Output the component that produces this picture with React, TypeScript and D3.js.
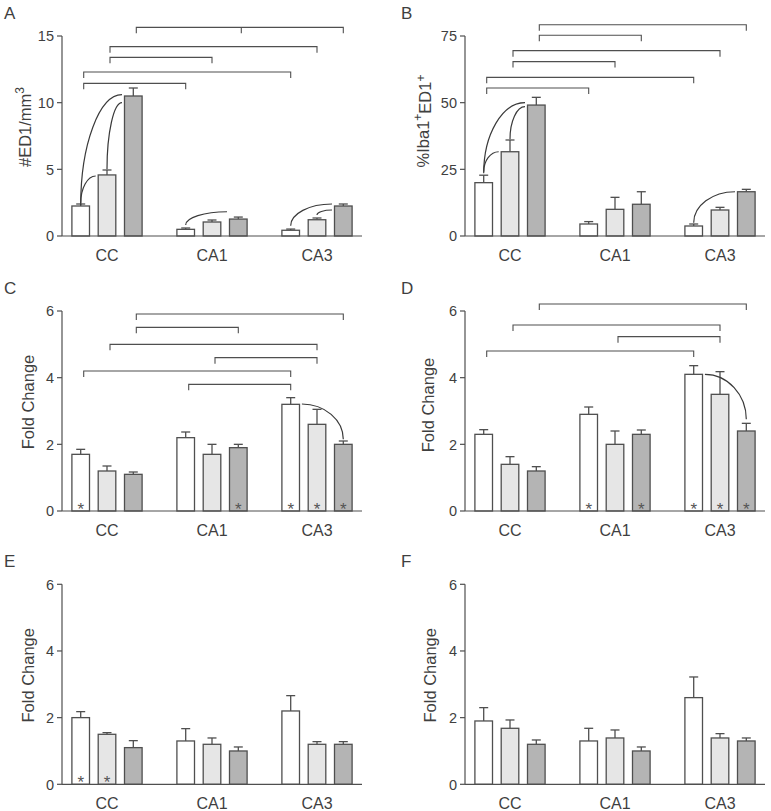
import React from "react";
import * as d3 from "d3";

// ---------- DATA ----------
const categories = ["CC", "CA1", "CA3"];
const seriesNames = ["white", "light", "dark"];

// means[group][series], errTop[group][series] (mean + SEM)
const aMeans = [[2.25, 4.58, 10.5], [0.5, 1.05, 1.27], [0.43, 1.22, 2.25]];
const aErrTop = [[2.4, 4.95, 11.1], [0.6, 1.2, 1.42], [0.52, 1.35, 2.4]];
const bMeans = [[20, 31.6, 49.1], [4.5, 10, 11.9], [3.75, 9.75, 16.6]];
const bErrTop = [[22.8, 36, 52], [5.4, 14.5, 16.6], [4.5, 10.75, 17.5]];
const cMeans = [[1.7, 1.2, 1.1], [2.2, 1.7, 1.9], [3.2, 2.6, 2.0]];
const cErrTop = [[1.85, 1.35, 1.17], [2.37, 2.0, 2.0], [3.4, 3.05, 2.1]];
const dMeans = [[2.3, 1.4, 1.2], [2.9, 2.0, 2.3], [4.1, 3.5, 2.4]];
const dErrTop = [[2.44, 1.63, 1.33], [3.12, 2.4, 2.43], [4.36, 4.18, 2.63]];
const eMeans = [[2.0, 1.5, 1.1], [1.3, 1.2, 1.0], [2.2, 1.2, 1.2]];
const eErrTop = [[2.18, 1.55, 1.31], [1.67, 1.39, 1.12], [2.66, 1.28, 1.28]];
const fMeans = [[1.9, 1.68, 1.2], [1.3, 1.39, 1.0], [2.6, 1.39, 1.3]];
const fErrTop = [[2.3, 1.93, 1.33], [1.68, 1.63, 1.12], [3.22, 1.52, 1.39]];

const aTicks = [0, 5, 10, 15];
const bTicks = [0, 25, 50, 75];
const foldTicks = [0, 2, 4, 6];

// significance stars: [group, series]
const cStars = [[0, 0], [1, 2], [2, 0], [2, 1], [2, 2]];
const dStars = [[1, 0], [1, 2], [2, 0], [2, 1], [2, 2]];
const eStars = [[0, 0], [0, 1]];

// brackets: [leftGroup, leftSeries, rightGroup, rightSeries, level, midGroup?, midSeries?]
const aBrackets = [
  [0, 2, 2, 2, 15.65, 1, 2],
  [0, 1, 2, 1, 14.2],
  [0, 1, 1, 1, 13.4],
  [0, 0, 2, 0, 12.3],
  [0, 0, 1, 0, 11.45],
];
const bBrackets = [
  [0, 2, 2, 2, 79.2],
  [0, 2, 1, 2, 75.3],
  [0, 1, 2, 1, 69.5],
  [0, 1, 1, 1, 65.4],
  [0, 0, 2, 0, 59.5],
  [0, 0, 1, 0, 55.5],
];
const cBrackets = [
  [0, 2, 2, 2, 5.91],
  [0, 2, 1, 2, 5.51],
  [0, 1, 2, 1, 5.0],
  [1, 1, 2, 1, 4.6],
  [0, 0, 2, 0, 4.2],
  [1, 0, 2, 0, 3.8],
];
const dBrackets = [
  [0, 2, 2, 2, 6.21],
  [0, 1, 2, 1, 5.58],
  [1, 1, 2, 1, 5.23],
  [0, 0, 2, 0, 4.8],
];

// curves: [fromGroup, fromSeries, fromValue, toGroup, toSeries, toValue, kind]
const aCurves = [
  [0, 0, 2.3, 0, 2, 10.6, "up"],
  [0, 0, 2.45, 0, 1, 4.5, "up"],
  [0, 1, 5.0, 0, 2, 10.0, "up"],
  [1, 0, 0.83, 1, 2, 1.82, "up"],
  [2, 0, 0.77, 2, 2, 2.4, "up"],
  [2, 1, 1.58, 2, 2, 1.95, "up"],
];
const bCurves = [
  [0, 0, 23.5, 0, 2, 50, "up"],
  [0, 0, 24.1, 0, 1, 31.6, "up"],
  [0, 1, 36.3, 0, 2, 48.5, "up"],
  [2, 0, 5, 2, 2, 16.6, "up"],
];
const cCurves = [[2, 0, 3.21, 2, 2, 2.15, "down"]];
const dCurves = [[2, 0, 4.1, 2, 2, 2.75, "down"]];

// ---------- LAYOUT / STYLE ----------
const W = 771;
const H = 811;
const FONT = "'Liberation Sans', Arial, Helvetica, sans-serif";
const TEXT = "#3f3f3f";
const LINE = "#4f4f4f";
const FILLS = ["#ffffff", "#e6e6e6", "#b4b4b4"];
const colX = [62, 465];
const rowY = [
  { base: 236, top: 36 },
  { base: 511, top: 311 },
  { base: 784.3, top: 584.3 },
];

type Panel = {
  letter: string;
  col: number;
  row: number;
  max: number;
  ticks: number[];
  means: number[][];
  errs: number[][];
  stars?: number[][];
  brackets?: any[][];
  curves?: any[][];
  label: "ed1" | "iba" | "fold";
  labelDx: number;
  labelDy: number;
};

const panels: Panel[] = [
  { letter: "A", col: 0, row: 0, max: 15, ticks: aTicks, means: aMeans, errs: aErrTop, brackets: aBrackets, curves: aCurves, label: "ed1", labelDx: -37, labelDy: -9 },
  { letter: "B", col: 1, row: 0, max: 75, ticks: bTicks, means: bMeans, errs: bErrTop, brackets: bBrackets, curves: bCurves, label: "iba", labelDx: -42, labelDy: -15 },
  { letter: "C", col: 0, row: 1, max: 6, ticks: foldTicks, means: cMeans, errs: cErrTop, stars: cStars, brackets: cBrackets, curves: cCurves, label: "fold", labelDx: -34, labelDy: -9 },
  { letter: "D", col: 1, row: 1, max: 6, ticks: foldTicks, means: dMeans, errs: dErrTop, stars: dStars, brackets: dBrackets, curves: dCurves, label: "fold", labelDx: -37, labelDy: -6 },
  { letter: "E", col: 0, row: 2, max: 6, ticks: foldTicks, means: eMeans, errs: eErrTop, stars: eStars, label: "fold", labelDx: -34, labelDy: -9 },
  { letter: "F", col: 1, row: 2, max: 6, ticks: foldTicks, means: fMeans, errs: fErrTop, label: "fold", labelDx: -35, labelDy: -9 },
];

const BAR_W = 17.6;
const CAP_W = 9;

function YLabel({ kind }: { kind: string }) {
  if (kind === "ed1") {
    return (
      <>
        #ED1/mm
        <tspan dy="-0.55em" fontSize="12">3</tspan>
      </>
    );
  }
  if (kind === "iba") {
    return (
      <>
        %Iba1
        <tspan dy="-0.55em" fontSize="12">+</tspan>
        <tspan dy="0.55em">ED1</tspan>
        <tspan dy="-0.55em" fontSize="12">+</tspan>
      </>
    );
  }
  return <>Fold Change</>;
}

function PanelChart({ p }: { p: Panel }) {
  const ax = colX[p.col];
  const { base, top } = rowY[p.row];
  const y = d3.scaleLinear().domain([0, p.max]).range([base, top]);
  const gx = d3.scalePoint<string>().domain(categories).range([ax + 45, ax + 255]);
  const bx = d3.scalePoint<number>().domain([0, 1, 2]).range([-26.3, 26.3]);
  const cx = (g: number, s: number) => (gx(categories[g]) as number) + (bx(s) as number);

  const bars: any[] = [];
  p.means.forEach((row, g) =>
    row.forEach((v, s) => {
      bars.push({ g, s, v, e: p.errs[g][s] });
    })
  );

  const curvePath = (c: any[]) => {
    const [fg, fs, fv, tg, ts, tv, kind] = c;
    const k = 0.55;
    const path = d3.path();
    if (kind === "up") {
      const sx = cx(fg, fs);
      const sy = y(fv);
      const ex = cx(tg, ts) - BAR_W / 2 - 2.5;
      const ey = y(tv);
      path.moveTo(sx, sy);
      path.bezierCurveTo(sx, sy + k * (ey - sy), ex - k * (ex - sx), ey, ex, ey);
      return path.toString();
    }
    const sx = cx(fg, fs) + BAR_W / 2 + 2.4;
    const sy = y(fv);
    const ex = cx(tg, ts);
    const ey = y(tv);
    path.moveTo(sx, sy);
    path.bezierCurveTo(sx + k * (ex - sx), sy, ex, ey - k * (ey - sy), ex, ey);
    return path.toString();
  };

  const labelY = (base + top) / 2 + p.labelDy;
  const labelX = ax + p.labelDx;

  return (
    <g>
      <text x={p.col === 0 ? 4 : 401} y={top - 17} fontSize={17} fill={TEXT} fontFamily={FONT}>
        {p.letter}
      </text>
      <line x1={ax} x2={ax} y1={base} y2={top} stroke={LINE} strokeWidth={1.2} />
      {p.ticks.map((t) => (
        <g key={t}>
          <line x1={ax - 5} x2={ax} y1={y(t)} y2={y(t)} stroke={LINE} strokeWidth={1.2} />
          <text x={ax - 8} y={y(t)} dy="0.36em" textAnchor="end" fontSize={14.5} fill={TEXT} fontFamily={FONT}>
            {t}
          </text>
        </g>
      ))}
      <text
        transform={`translate(${labelX},${labelY}) rotate(-90)`}
        textAnchor="middle"
        dy="0.36em"
        fontSize={16.5}
        fill={TEXT}
        fontFamily={FONT}
      >
        <YLabel kind={p.label} />
      </text>
      {bars.map((b) => {
        const c = cx(b.g, b.s);
        return (
          <g key={`${b.g}-${b.s}`}>
            <line x1={c} x2={c} y1={y(b.v)} y2={y(b.e)} stroke={LINE} strokeWidth={1.3} />
            <line x1={c - CAP_W / 2} x2={c + CAP_W / 2} y1={y(b.e)} y2={y(b.e)} stroke={LINE} strokeWidth={1.3} />
            <rect
              x={c - BAR_W / 2}
              y={y(b.v)}
              width={BAR_W}
              height={base - y(b.v)}
              fill={FILLS[b.s]}
              stroke={LINE}
              strokeWidth={1.3}
            />
          </g>
        );
      })}
      <line x1={ax} x2={ax + 300} y1={base} y2={base} stroke={LINE} strokeWidth={1.2} />
      {categories.map((c) => (
        <text key={c} x={gx(c)} y={base + 25} textAnchor="middle" fontSize={16} fill={TEXT} fontFamily={FONT}>
          {c}
        </text>
      ))}
      {(p.stars || []).map(([g, s]) => (
        <text key={`st${g}${s}`} x={cx(g, s)} y={base + 4} textAnchor="middle" fontSize={17} fill="#555" fontFamily={FONT}>
          *
        </text>
      ))}
      {(p.brackets || []).map((br, i) => {
        const [lg, ls, rg, rs, lvl, mg, ms] = br;
        const x1 = cx(lg, ls) + 3;
        const x2 = cx(rg, rs);
        const yy = y(lvl);
        const d = `M${x1},${yy + 6}V${yy}H${x2}V${yy + 6}`;
        return (
          <g key={`br${i}`}>
            <path d={d} fill="none" stroke={LINE} strokeWidth={1.1} />
            {mg !== undefined && (
              <line x1={cx(mg, ms) + 3} x2={cx(mg, ms) + 3} y1={yy} y2={yy + 6} stroke={LINE} strokeWidth={1.1} />
            )}
          </g>
        );
      })}
      {(p.curves || []).map((c, i) => (
        <path key={`cv${i}`} d={curvePath(c)} fill="none" stroke="#3a3a3a" strokeWidth={1.2} />
      ))}
    </g>
  );
}

export default function App() {
  return (
    <svg
      width={W}
      height={H}
      viewBox={`0 0 ${W} ${H}`}
      style={{ position: "absolute", left: 0, top: 0, background: "#fff" }}
    >
      <rect width={W} height={H} fill="#fff" />
      {panels.map((p) => (
        <PanelChart key={p.letter} p={p} />
      ))}
    </svg>
  );
}
